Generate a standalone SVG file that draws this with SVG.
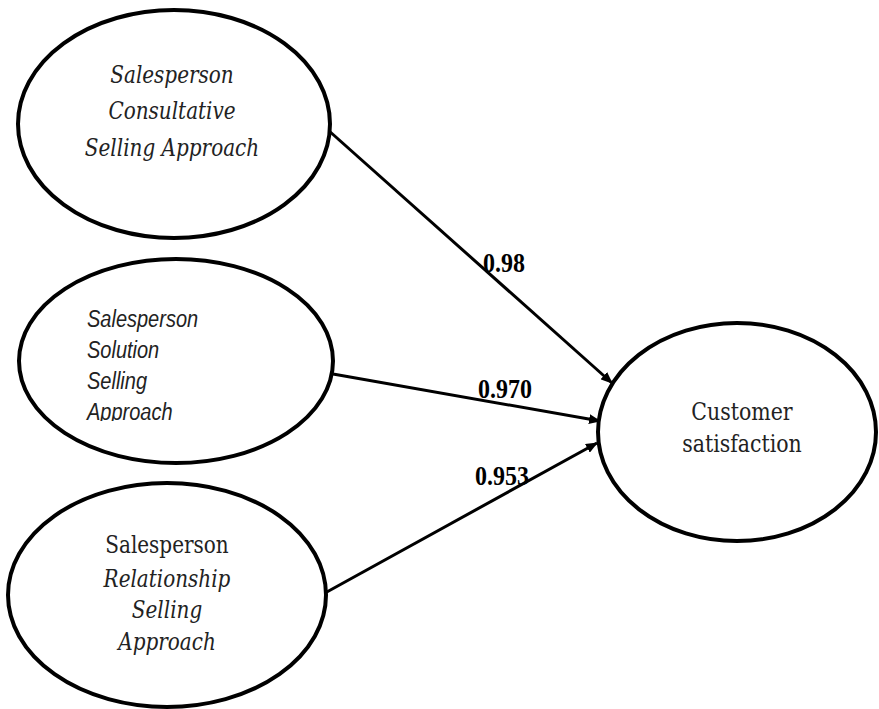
<svg xmlns="http://www.w3.org/2000/svg" width="879" height="709" viewBox="0 0 879 709">
<style>
.node{fill:#fff;stroke:#000;stroke-width:4}
.serif{font-family:"DejaVu Serif","Liberation Serif",serif;font-size:20px;fill:#222;text-anchor:middle}
.it{font-style:italic}
.sans{font-family:"Liberation Sans",Arial,sans-serif;font-size:20px;font-style:italic;fill:#222}
.edge{stroke:#000;stroke-width:3;fill:none;marker-end:url(#ah)}
.lbl{font-family:"Liberation Serif","Times New Roman",serif;font-weight:bold;font-size:24px;fill:#000}
</style>
<defs>
<marker id="ah" markerWidth="12" markerHeight="10" refX="11" refY="5" orient="auto" markerUnits="userSpaceOnUse">
<path d="M0,0 L12,5 L0,10 Z" fill="#000"/>
</marker>
<clipPath id="clip2"><rect x="0" y="240" width="879" height="181"/></clipPath>
</defs>
<rect width="879" height="709" fill="#fff"/>
<g id="connectors">
<line class="edge" x1="328" y1="130" x2="612" y2="383"/>
<line class="edge" x1="333" y1="374" x2="600" y2="421"/>
<line class="edge" x1="325" y1="593" x2="597" y2="443"/>
<text class="lbl" transform="translate(483 272) scale(1 1.1)">0.98</text>
<text class="lbl" transform="translate(478 398) scale(1 1.1)">0.970</text>
<text class="lbl" transform="translate(475 485) scale(1 1.1)">0.953</text>
</g>
<g id="consultative">
<ellipse class="node" cx="174" cy="124" rx="156" ry="114"/>
<text class="serif it" transform="translate(172 83) scale(1 1.17)">Salesperson</text>
<text class="serif it" transform="translate(172 119) scale(1 1.17)">Consultative</text>
<text class="serif it" transform="translate(172 156) scale(1 1.17)">Selling Approach</text>
</g>
<g id="solution">
<ellipse class="node" cx="176" cy="361" rx="157" ry="102"/>
<g clip-path="url(#clip2)">
<text class="sans" transform="translate(87 327) scale(1 1.23)">Salesperson</text>
<text class="sans" transform="translate(87 358) scale(1 1.23)">Solution</text>
<text class="sans" transform="translate(87 389) scale(1 1.23)">Selling</text>
<text class="sans" transform="translate(87 420) scale(1 1.23)">Approach</text>
</g>
</g>
<g id="relationship">
<ellipse class="node" cx="167" cy="595" rx="159" ry="112"/>
<text class="serif" transform="translate(167 553) scale(1 1.17)">Salesperson</text>
<text class="serif it" transform="translate(167 587) scale(1 1.17)">Relationship</text>
<text class="serif it" transform="translate(167 618) scale(1 1.17)">Selling</text>
<text class="serif it" transform="translate(167 650) scale(1 1.17)">Approach</text>
</g>
<g id="customer">
<ellipse class="node" cx="737" cy="432" rx="139" ry="109"/>
<text class="serif" transform="translate(742 420) scale(1 1.2)" style="font-size:20.5px">Customer</text>
<text class="serif" transform="translate(742 452) scale(1 1.2)" style="font-size:20.5px">satisfaction</text>
</g>
</svg>
